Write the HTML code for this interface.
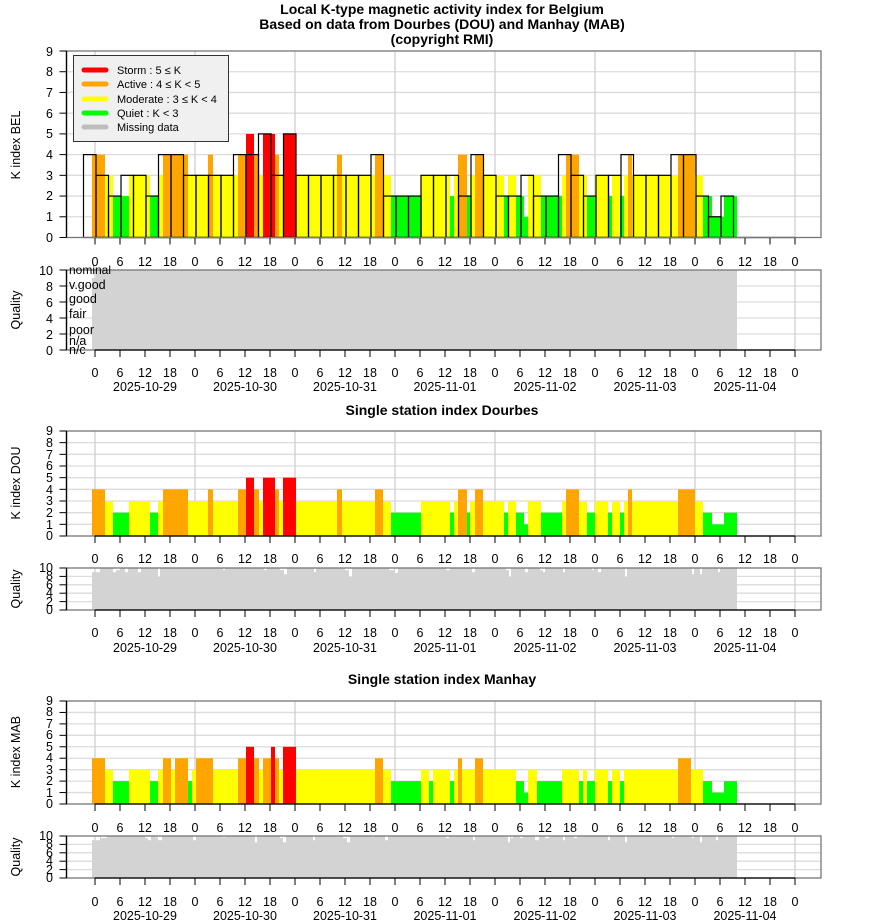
<!DOCTYPE html>
<html><head><meta charset="utf-8"><style>
body{margin:0;background:#fff}
svg{display:block;font-family:"Liberation Sans",sans-serif}
.t{font-weight:bold;font-size:14px;text-anchor:middle}
.l{font-size:12.5px;text-anchor:middle}
.y{font-size:12.5px;text-anchor:end}
.q{font-size:12.5px}
</style></head><body>
<svg id="s" width="880" height="924" viewBox="0 0 880 924" xmlns="http://www.w3.org/2000/svg">
<rect width="880" height="924" fill="#fff"/>
<g id="bg"></g>
<g id="fg"></g>
<text class="t" x="442" y="14">Local K-type magnetic activity index for Belgium</text>
<text class="t" x="442" y="29">Based on data from Dourbes (DOU) and Manhay (MAB)</text>
<text class="t" x="442" y="44">(copyright RMI)</text>
<text class="t" x="442" y="415">Single station index Dourbes</text>
<text class="t" x="442" y="684">Single station index Manhay</text>
<g class="q">
<text x="20" y="145" transform="rotate(-90 20 145)" text-anchor="middle">K index BEL</text>
<text x="20" y="310" transform="rotate(-90 20 310)" text-anchor="middle">Quality</text>
<text x="20" y="483" transform="rotate(-90 20 483)" text-anchor="middle">K index DOU</text>
<text x="20" y="589" transform="rotate(-90 20 589)" text-anchor="middle">Quality</text>
<text x="20" y="752" transform="rotate(-90 20 752)" text-anchor="middle">K index MAB</text>
<text x="20" y="857" transform="rotate(-90 20 857)" text-anchor="middle">Quality</text>
</g>
<g class="y">
<text x="53" y="242">0</text><text x="53" y="221">1</text><text x="53" y="200">2</text><text x="53" y="180">3</text><text x="53" y="159">4</text><text x="53" y="138">5</text><text x="53" y="118">6</text><text x="53" y="97">7</text><text x="53" y="76">8</text><text x="53" y="56">9</text>
<text x="53" y="355">0</text><text x="53" y="339">2</text><text x="53" y="323">4</text><text x="53" y="307">6</text><text x="53" y="291">8</text><text x="53" y="275">10</text>
<text x="53" y="540">0</text><text x="53" y="529">1</text><text x="53" y="517">2</text><text x="53" y="505">3</text><text x="53" y="494">4</text><text x="53" y="482">5</text><text x="53" y="470">6</text><text x="53" y="459">7</text><text x="53" y="447">8</text><text x="53" y="435">9</text>
<text x="53" y="614">0</text><text x="53" y="606">2</text><text x="53" y="597">4</text><text x="53" y="589">6</text><text x="53" y="580">8</text><text x="53" y="572">10</text>
<text x="53" y="808">0</text><text x="53" y="797">1</text><text x="53" y="785">2</text><text x="53" y="774">3</text><text x="53" y="762">4</text><text x="53" y="751">5</text><text x="53" y="739">6</text><text x="53" y="728">7</text><text x="53" y="716">8</text><text x="53" y="705">9</text>
<text x="53" y="882">0</text><text x="53" y="874">2</text><text x="53" y="865">4</text><text x="53" y="857">6</text><text x="53" y="848">8</text><text x="53" y="840">10</text>
</g>
<g class="q">
<text x="69" y="274" font-size="12">nominal</text>
<text x="69" y="289">v.good</text>
<text x="69" y="303">good</text>
<text x="69" y="318">fair</text>
<text x="69" y="334">poor</text>
<text x="69" y="345">n/a</text>
<text x="69" y="354">n/c</text>
</g>
<rect x="73.5" y="55.5" width="155" height="86" fill="#f0f0f0" stroke="#333"/>
<g stroke-width="5" stroke-linecap="round">
<line x1="84" y1="70" x2="106" y2="70" stroke="#f00"/>
<line x1="84" y1="84" x2="106" y2="84" stroke="#ffa500"/>
<line x1="84" y1="99" x2="106" y2="99" stroke="#ff0"/>
<line x1="84" y1="113" x2="106" y2="113" stroke="#0f0"/>
<line x1="84" y1="127" x2="106" y2="127" stroke="#bebebe"/>
</g>
<g class="q" font-size="11" style="font-size:11px">
<text x="117" y="74">Storm : 5 ≤ K</text>
<text x="117" y="88">Active : 4 ≤ K &lt; 5</text>
<text x="117" y="103">Moderate : 3 ≤ K &lt; 4</text>
<text x="117" y="117">Quiet : K &lt; 3</text>
<text x="117" y="131">Missing data</text>
</g>
<g class="l" id="hours">
<g><text x="95" y="266">0</text><text x="120" y="266">6</text><text x="145" y="266">12</text><text x="170" y="266">18</text><text x="195" y="266">0</text><text x="220" y="266">6</text><text x="245" y="266">12</text><text x="270" y="266">18</text><text x="295" y="266">0</text><text x="320" y="266">6</text><text x="345" y="266">12</text><text x="370" y="266">18</text><text x="395" y="266">0</text><text x="420" y="266">6</text><text x="445" y="266">12</text><text x="470" y="266">18</text><text x="495" y="266">0</text><text x="520" y="266">6</text><text x="545" y="266">12</text><text x="570" y="266">18</text><text x="595" y="266">0</text><text x="620" y="266">6</text><text x="645" y="266">12</text><text x="670" y="266">18</text><text x="695" y="266">0</text><text x="720" y="266">6</text><text x="745" y="266">12</text><text x="770" y="266">18</text><text x="795" y="266">0</text></g>
<g transform="translate(0,111)"><text x="95" y="266">0</text><text x="120" y="266">6</text><text x="145" y="266">12</text><text x="170" y="266">18</text><text x="195" y="266">0</text><text x="220" y="266">6</text><text x="245" y="266">12</text><text x="270" y="266">18</text><text x="295" y="266">0</text><text x="320" y="266">6</text><text x="345" y="266">12</text><text x="370" y="266">18</text><text x="395" y="266">0</text><text x="420" y="266">6</text><text x="445" y="266">12</text><text x="470" y="266">18</text><text x="495" y="266">0</text><text x="520" y="266">6</text><text x="545" y="266">12</text><text x="570" y="266">18</text><text x="595" y="266">0</text><text x="620" y="266">6</text><text x="645" y="266">12</text><text x="670" y="266">18</text><text x="695" y="266">0</text><text x="720" y="266">6</text><text x="745" y="266">12</text><text x="770" y="266">18</text><text x="795" y="266">0</text></g>
<g transform="translate(0,297)"><text x="95" y="266">0</text><text x="120" y="266">6</text><text x="145" y="266">12</text><text x="170" y="266">18</text><text x="195" y="266">0</text><text x="220" y="266">6</text><text x="245" y="266">12</text><text x="270" y="266">18</text><text x="295" y="266">0</text><text x="320" y="266">6</text><text x="345" y="266">12</text><text x="370" y="266">18</text><text x="395" y="266">0</text><text x="420" y="266">6</text><text x="445" y="266">12</text><text x="470" y="266">18</text><text x="495" y="266">0</text><text x="520" y="266">6</text><text x="545" y="266">12</text><text x="570" y="266">18</text><text x="595" y="266">0</text><text x="620" y="266">6</text><text x="645" y="266">12</text><text x="670" y="266">18</text><text x="695" y="266">0</text><text x="720" y="266">6</text><text x="745" y="266">12</text><text x="770" y="266">18</text><text x="795" y="266">0</text></g>
<g transform="translate(0,371)"><text x="95" y="266">0</text><text x="120" y="266">6</text><text x="145" y="266">12</text><text x="170" y="266">18</text><text x="195" y="266">0</text><text x="220" y="266">6</text><text x="245" y="266">12</text><text x="270" y="266">18</text><text x="295" y="266">0</text><text x="320" y="266">6</text><text x="345" y="266">12</text><text x="370" y="266">18</text><text x="395" y="266">0</text><text x="420" y="266">6</text><text x="445" y="266">12</text><text x="470" y="266">18</text><text x="495" y="266">0</text><text x="520" y="266">6</text><text x="545" y="266">12</text><text x="570" y="266">18</text><text x="595" y="266">0</text><text x="620" y="266">6</text><text x="645" y="266">12</text><text x="670" y="266">18</text><text x="695" y="266">0</text><text x="720" y="266">6</text><text x="745" y="266">12</text><text x="770" y="266">18</text><text x="795" y="266">0</text></g>
<g transform="translate(0,566)"><text x="95" y="266">0</text><text x="120" y="266">6</text><text x="145" y="266">12</text><text x="170" y="266">18</text><text x="195" y="266">0</text><text x="220" y="266">6</text><text x="245" y="266">12</text><text x="270" y="266">18</text><text x="295" y="266">0</text><text x="320" y="266">6</text><text x="345" y="266">12</text><text x="370" y="266">18</text><text x="395" y="266">0</text><text x="420" y="266">6</text><text x="445" y="266">12</text><text x="470" y="266">18</text><text x="495" y="266">0</text><text x="520" y="266">6</text><text x="545" y="266">12</text><text x="570" y="266">18</text><text x="595" y="266">0</text><text x="620" y="266">6</text><text x="645" y="266">12</text><text x="670" y="266">18</text><text x="695" y="266">0</text><text x="720" y="266">6</text><text x="745" y="266">12</text><text x="770" y="266">18</text><text x="795" y="266">0</text></g>
<g transform="translate(0,640)"><text x="95" y="266">0</text><text x="120" y="266">6</text><text x="145" y="266">12</text><text x="170" y="266">18</text><text x="195" y="266">0</text><text x="220" y="266">6</text><text x="245" y="266">12</text><text x="270" y="266">18</text><text x="295" y="266">0</text><text x="320" y="266">6</text><text x="345" y="266">12</text><text x="370" y="266">18</text><text x="395" y="266">0</text><text x="420" y="266">6</text><text x="445" y="266">12</text><text x="470" y="266">18</text><text x="495" y="266">0</text><text x="520" y="266">6</text><text x="545" y="266">12</text><text x="570" y="266">18</text><text x="595" y="266">0</text><text x="620" y="266">6</text><text x="645" y="266">12</text><text x="670" y="266">18</text><text x="695" y="266">0</text><text x="720" y="266">6</text><text x="745" y="266">12</text><text x="770" y="266">18</text><text x="795" y="266">0</text></g>
</g>
<g class="l">
<text x="145" y="391">2025-10-29</text><text x="245" y="391">2025-10-30</text><text x="345" y="391">2025-10-31</text><text x="445" y="391">2025-11-01</text><text x="545" y="391">2025-11-02</text><text x="645" y="391">2025-11-03</text><text x="745" y="391">2025-11-04</text>
<text x="145" y="652">2025-10-29</text><text x="245" y="652">2025-10-30</text><text x="345" y="652">2025-10-31</text><text x="445" y="652">2025-11-01</text><text x="545" y="652">2025-11-02</text><text x="645" y="652">2025-11-03</text><text x="745" y="652">2025-11-04</text>
<text x="145" y="920">2025-10-29</text><text x="245" y="920">2025-10-30</text><text x="345" y="920">2025-10-31</text><text x="445" y="920">2025-11-01</text><text x="545" y="920">2025-11-02</text><text x="645" y="920">2025-11-03</text><text x="745" y="920">2025-11-04</text>
</g>
</svg>
<script>
(function(){
var NS="http://www.w3.org/2000/svg",bg=document.getElementById("bg"),fg=document.getElementById("fg");
function el(p,t,a){var e=document.createElementNS(NS,t);for(var k in a)e.setAttribute(k,a[k]);p.appendChild(e);return e;}
var L=66.5,R=821;
function col(k){return k>=5?"#ff0000":k>=4?"#ffa500":k>=3?"#ffff00":"#00ff00";}
function panel(top,bot,n,step){
 el(bg,"rect",{x:L,y:top,width:R-L,height:bot-top,fill:"#fff"});
 for(var i=step;i<n;i+=step){var y=bot-(bot-top)*i/n;el(bg,"line",{x1:L,x2:R,y1:y,y2:y,stroke:"#dcdcdc","stroke-width":1.3});}
 for(var d=0;d<8;d++){var x=95+100*d;el(bg,"line",{x1:x,x2:x,y1:top,y2:bot,stroke:"#cfcfcf","stroke-width":1.3});}
 el(fg,"rect",{x:L,y:top,width:R-L,height:bot-top,fill:"none",stroke:"#777","stroke-width":1.3});
 el(fg,"line",{x1:L,x2:L,y1:top,y2:bot,stroke:"#000","stroke-width":1.3});
 for(var i=0;i<=n;i+=step){var y=bot-(bot-top)*i/n;el(fg,"line",{x1:L-7,x2:L,y1:y,y2:y,stroke:"#000"});}
 el(fg,"line",{x1:95,x2:795,y1:bot,y2:bot,stroke:"#000","stroke-width":1.3});
 for(var t=0;t<=28;t++){var x=95+25*t;el(fg,"line",{x1:x,x2:x,y1:bot,y2:bot+7,stroke:"#000"});}
}
function bars(top,bot,segs){var u=(bot-top)/9;segs.forEach(function(s){el(bg,"rect",{x:s[0],y:bot-u*s[2],width:s[1]-s[0],height:u*s[2],fill:col(s[2])});});}
var DOU=[[92,105,4],[105,113,3],[113,129,2],[129,150,3],[150,158,2],[158,163,3],[163,188,4],[188,208,3],[208,213,4],[213,238,3],[238,246,4],[246,254,5],[254,259,4],[259,263,3],[263,275,5],[275,279,4],[279,283,3],[283,296,5],[296,337,3],[337,342,4],[342,375,3],[375,383,4],[383,391,3],[391,421,2],[421,450,3],[450,454,2],[454,458,3],[458,467,4],[467,470,2],[470,475,3],[475,483,4],[483,504,3],[504,508,2],[508,516,3],[516,524,2],[524,528,1],[528,541,3],[541,562,2],[562,566,3],[566,579,4],[579,587,3],[587,595,2],[595,608,3],[608,612,2],[612,620,3],[620,624,2],[624,628,3],[628,632,4],[632,678,3],[678,695,4],[695,703,3],[703,712,2],[712,724,1],[724,737,2]];
var MAB=[[92,105,4],[105,113,3],[113,129,2],[129,150,3],[150,158,2],[158,163,3],[163,171,4],[171,175,3],[175,188,4],[188,192,2],[192,196,3],[196,213,4],[213,238,3],[238,246,4],[246,254,5],[254,259,4],[259,263,3],[263,271,4],[271,275,5],[275,279,4],[279,283,3],[283,296,5],[296,375,3],[375,383,4],[383,391,3],[391,421,2],[421,429,3],[429,433,2],[433,450,3],[450,454,2],[454,458,3],[458,462,4],[462,475,3],[475,483,4],[483,516,3],[516,524,2],[524,528,1],[528,537,3],[537,562,2],[562,579,3],[579,583,2],[583,587,3],[587,595,2],[595,608,3],[608,612,2],[612,620,3],[620,624,2],[624,678,3],[678,691,4],[691,703,3],[703,712,2],[712,724,1],[724,737,2]];
var BEL=[4,3,2,3,3,2,4,4,3,3,3,3,4,4,5,3,5,3,3,3,3,3,3,4,2,2,2,3,3,3,2,4,3,2,2,3,2,2,4,3,2,3,3,4,3,3,3,4,4,2,1,2];
panel(51,237.5,9,1);
bars(51,237.5,DOU);
var u=(237.5-51)/9;
BEL.forEach(function(k,i){var x=83.5+12.5*i;el(bg,"rect",{x:x,y:237.5-u*k,width:12.5,height:u*k,fill:"none",stroke:"#000","stroke-width":1.2});});
el(fg,"line",{x1:L,x2:R,y1:237.5,y2:237.5,stroke:"#777"});
function qual(top,bot,notches){panel(top,bot,10,2);el(bg,"rect",{x:92,y:top+(bot-top)*0.1,width:4,height:(bot-top)*0.9,fill:"#d3d3d3"});el(bg,"rect",{x:96,y:top,width:641,height:bot-top,fill:"#d3d3d3"});
 notches.forEach(function(n){el(bg,"rect",{x:n[0],y:top,width:n[1],height:(bot-top)*n[2]/10,fill:"#fff"});});}
qual(270,350,[]);
panel(431,536,9,1);bars(431,536,DOU);
qual(568,610,[[96,4,1],[113,3,1],[114,6,0.5],[125,3,1],[138,3,1],[158,2,2],[223,2,0.5],[264,3,0.5],[280,5,0.5],[284,3,1.5],[314,2,1],[345,4,0.5],[349,3,2],[389,5,0.5],[395,3,1.2],[446,4,0.5],[472,3,1],[506,4,0.5],[509,2,2],[525,3,1],[540,4,0.5],[543,2,1],[563,2,1],[592,2,0.5],[598,3,1],[625,2,2],[692,2,1.5],[700,2,1.5],[718,2,1]]);
panel(701,804,9,1);bars(701,804,MAB);
qual(836,878,[[96,4,1],[101,6,0.5],[145,3,0.5],[148,3,1],[155,3,0.3],[193,3,1],[158,4,1],[223,3,0.3],[255,2,1.5],[280,4,0.5],[283,3,1.5],[313,2,1],[343,4,0.5],[347,3,1.5],[372,2,0.3],[385,3,1],[446,3,0.5],[473,2,1],[508,2,1.5],[511,2,0.5],[520,3,0.5],[535,4,1],[545,4,0.5],[563,2,1],[574,3,0.5],[608,2,1],[625,2,1.5],[672,2,0.5],[692,2,0.5],[700,2,1.5],[716,2,1]]);
})();
</script>
</body></html>
